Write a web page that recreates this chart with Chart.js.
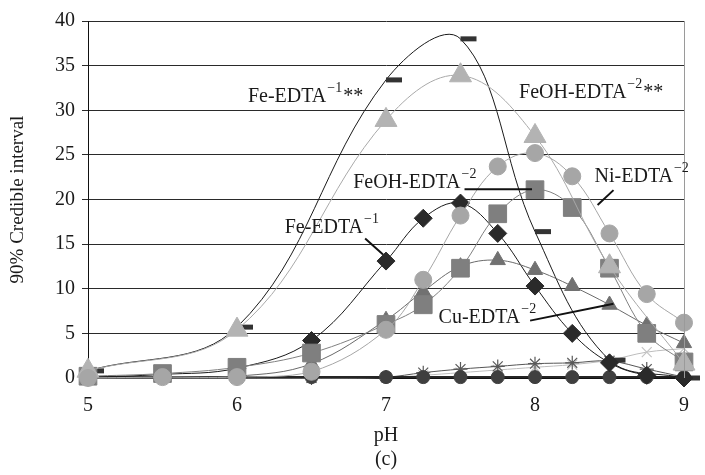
<!DOCTYPE html>
<html>
<head>
<meta charset="utf-8">
<script src="https://cdn.jsdelivr.net/npm/chart.js@4"></script>
<style>
  html, body { margin: 0; padding: 0; background: #fff; }
  #wrap { width: 705px; height: 475px; }
</style>
</head>
<body>
<div id="wrap"><canvas id="chart" width="705" height="475"></canvas></div>
<script>
// pH values (two sampling grids)
const phCoarse = [5, 6, 7, 7.5, 8, 8.5, 9];
const phFine = [5, 5.5, 6, 6.5, 7, 7.25, 7.5, 7.75, 8, 8.25, 8.5, 8.75, 9];

// 90% credible interval widths
const feEdtaStar = [0.8, 5.7, 33.4, 38.0, 16.4, 2.0, 0.0];
const feohEdtaStar = [0.8, 5.4, 28.9, 33.9, 27.1, 12.5, 1.6];
const feEdta = [0.1, 0.4, 1.1, 4.2, 13.1, 17.9, 19.6, 16.2, 10.3, 5.0, 1.7, 0.3, 0.0];
const feohEdta = [0.2, 0.5, 1.2, 2.8, 6.0, 8.2, 12.3, 18.4, 21.1, 19.1, 12.3, 5.0, 1.8];
const niEdta = [0.0, 0.1, 0.1, 0.7, 5.4, 11.0, 18.2, 23.7, 25.2, 22.6, 16.2, 9.4, 6.2];
const cuEdta = [0.0, 0.1, 0.2, 1.6, 6.5, 9.7, 12.5, 13.2, 12.1, 10.3, 8.2, 5.9, 3.9];
const starSeries = [0, 0, 0, 0, 0.1, 0.6, 1.0, 1.3, 1.6, 1.7, 1.9, 1.0, 0.1];
const crossSeries = [0, 0, 0, 0, 0.05, 0.3, 0.6, 0.9, 1.2, 1.5, 2.0, 2.9, 3.3];
const darkCircles = [0.1, 0.1, 0.1, 0.1, 0.1, 0.1, 0.1, 0.1, 0.1, 0.1, 0.1, 0.1, 0.1];

// annotation labels: [pH, value] of text baseline-left, plus optional leader line
const labels = [
  { at: [6.073, 30.9], main: 'Fe-EDTA', sup: '\u22121', tail: '**' },
  { at: [7.893, 31.4], main: 'FeOH-EDTA', sup: '\u22122', tail: '**' },
  { at: [6.78, 21.3], main: 'FeOH-EDTA', sup: '\u22122', lead: [[7.527, 21.16], [7.98, 21.16]] },
  { at: [8.4, 21.95], main: 'Ni-EDTA', sup: '\u22122', lead: [[8.527, 21.05], [8.42, 19.39]] },
  { at: [6.32, 16.2], main: 'Fe-EDTA', sup: '\u22121', lead: [[6.86, 15.62], [6.98, 13.85]] },
  { at: [7.353, 6.2], main: 'Cu-EDTA', sup: '\u22122', lead: [[7.967, 6.43], [8.527, 8.31]] }
];

const pts = (xs, ys) => xs.map((x, i) => ({ x: x, y: ys[i] }));

function series(data, xs, color, lineColor, style, radius, extra) {
  return Object.assign({
    data: pts(xs, data),
    borderColor: lineColor,
    borderWidth: 1,
    backgroundColor: color,
    pointBackgroundColor: color,
    pointBorderColor: color,
    pointBorderWidth: 1,
    pointStyle: style,
    pointRadius: radius,
    tension: 0.38,
    clip: false
  }, extra || {});
}

const serif = '"Liberation Serif", "Times New Roman", serif';

const overlay = {
  id: 'overlay',
  afterDraw(chart) {
    const { ctx, chartArea, scales } = chart;
    const xs = scales.x, ys = scales.y;
    ctx.save();
    // right frame
    ctx.strokeStyle = '#9a9a9a';
    ctx.lineWidth = 1;
    ctx.beginPath();
    ctx.moveTo(chartArea.right + 0.5, chartArea.top);
    ctx.lineTo(chartArea.right + 0.5, chartArea.bottom);
    ctx.stroke();

    ctx.fillStyle = '#1a1a1a';
    ctx.strokeStyle = '#111';
    ctx.textBaseline = 'alphabetic';
    ctx.textAlign = 'left';
    labels.forEach(l => {
      const px = xs.getPixelForValue(l.at[0]);
      const py = ys.getPixelForValue(l.at[1]);
      ctx.font = '20px ' + serif;
      ctx.fillText(l.main, px, py);
      let w = ctx.measureText(l.main).width + 1;
      ctx.font = '14px ' + serif;
      ctx.fillText(l.sup, px + w, py - 10);
      w += ctx.measureText(l.sup).width + 1;
      if (l.tail) {
        ctx.font = '20px ' + serif;
        ctx.fillText(l.tail, px + w, py);
      }
      if (l.lead) {
        ctx.lineWidth = 2;
        ctx.beginPath();
        ctx.moveTo(xs.getPixelForValue(l.lead[0][0]), ys.getPixelForValue(l.lead[0][1]));
        ctx.lineTo(xs.getPixelForValue(l.lead[1][0]), ys.getPixelForValue(l.lead[1][1]));
        ctx.stroke();
      }
    });
    ctx.restore();
  }
};

new Chart(document.getElementById('chart'), {
  type: 'line',
  data: {
    datasets: [
      series(niEdta, phFine, '#a6a6a6', '#a6a6a6', 'circle', 8.5),
      series(feohEdtaStar, phCoarse, '#b3b3b3', '#a9a9a9', 'triangle', 12.7),
      series(feohEdta, phFine, '#7f7f7f', '#808080', 'rect', 12.5),
      series(cuEdta, phFine, '#717171', '#6a6a6a', 'triangle', 8.8),
      series(feEdta, phFine, '#2a2a2a', '#1a1a1a', 'rectRot', 9),
      series(feEdtaStar, phCoarse, '#333333', '#1a1a1a', 'dash', 16, { pointBorderWidth: 5 }),
      series(darkCircles, phFine, '#3f3f3f', '#262626', 'circle', 6.5, { borderWidth: 2 }),
      series(starSeries, phFine, '#595959', '#555555', 'star', 7, { pointBorderWidth: 1.2 }),
      series(crossSeries, phFine, '#c4c4c4', '#bdbdbd', 'crossRot', 7, { pointBorderWidth: 1.2 })
    ]
  },
  options: {
    responsive: false,
    animation: false,
    layout: { padding: { top: 17, right: 15, left: 0, bottom: 0 } },
    plugins: {
      legend: { display: false },
      tooltip: { enabled: false }
    },
    scales: {
      x: {
        type: 'linear',
        min: 5,
        max: 9,
        afterFit(scale) { scale.height = 97; },
        ticks: {
          stepSize: 1,
          padding: 11,
          color: '#1a1a1a',
          font: { family: serif, size: 20 }
        },
        grid: { drawOnChartArea: false, tickLength: 5, color: '#111' },
        border: { color: '#111', width: 1 },
        title: {
          display: true,
          text: ['pH', '(c)'],
          color: '#1a1a1a',
          font: { family: serif, size: 20, lineHeight: 1.2 },
          padding: { top: 0, bottom: 3 }
        }
      },
      y: {
        min: 0,
        max: 40,
        afterFit(scale) { scale.width = 88; },
        ticks: {
          stepSize: 5,
          padding: 7,
          color: '#1a1a1a',
          font: { family: serif, size: 20 }
        },
        grid: { color: '#2a2a2a', lineWidth: 1, tickLength: 6 },
        border: { color: '#111', width: 1 },
        title: {
          display: true,
          text: '90% Credible interval',
          color: '#1a1a1a',
          font: { family: serif, size: 19 },
          padding: { top: 7, bottom: 0 }
        }
      }
    }
  },
  plugins: [overlay]
});
</script>
</body>
</html>
